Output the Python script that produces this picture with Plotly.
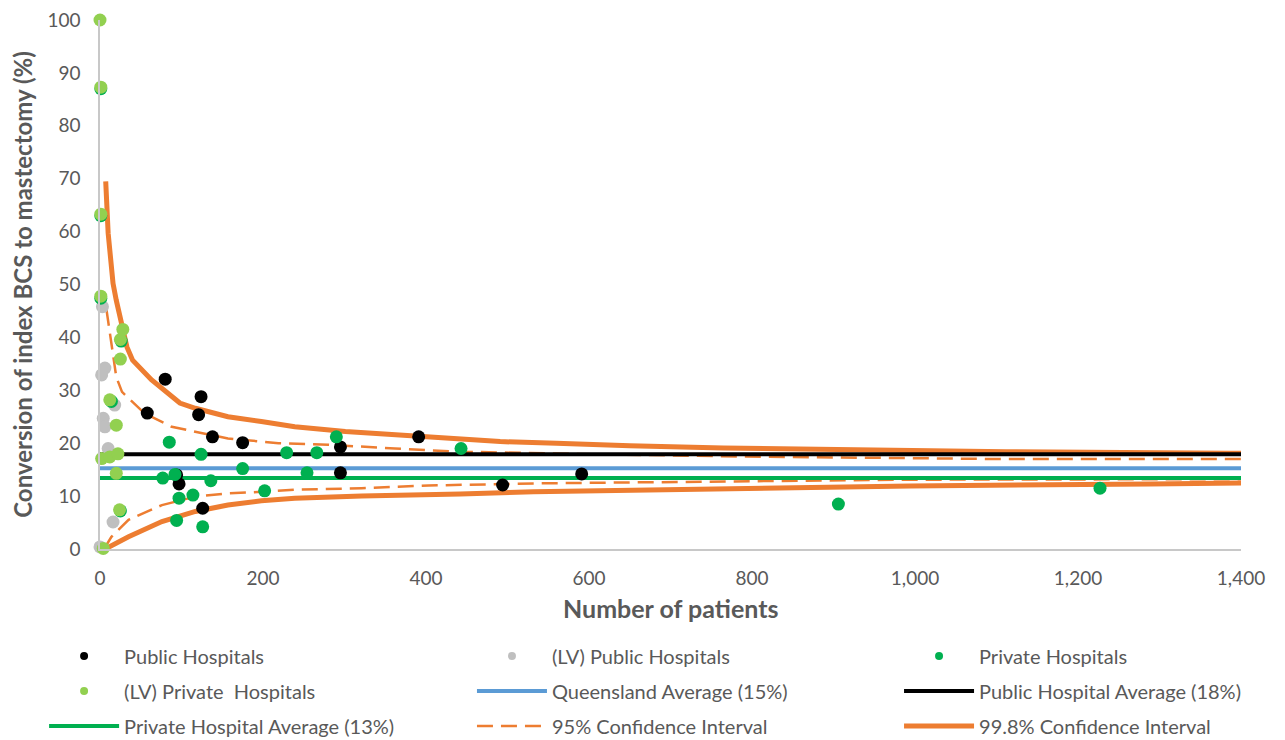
import plotly.graph_objects as go

# ---------------- data ----------------
public_n = [58, 80, 124, 121, 138, 175, 94, 97, 126, 391, 295, 295, 494, 591]
public_pct = [25.7, 32.1, 28.8, 25.4, 21.2, 20.1, 14.0, 12.3, 7.7, 21.2, 19.3, 14.4, 12.1, 14.2]

lv_public_n = [3, 6, 2, 18, 4, 6, 10, 16, 0]
lv_public_pct = [45.8, 34.2, 32.9, 27.2, 24.7, 23.1, 19.0, 5.1, 0.4]

private_n = [1, 1, 1, 26, 14, 25, 85, 124, 229, 266, 290, 175, 254, 77, 92, 136, 202, 114, 97, 94, 126, 443, 906, 1227]
private_pct = [87.0, 63.0, 47.4, 39.3, 27.9, 7.2, 20.2, 17.9, 18.2, 18.2, 21.2, 15.2, 14.4, 13.4, 14.1, 12.9,
               11.0, 10.2, 9.6, 5.4, 4.2, 19.0, 8.5, 11.5]

lv_private_n = [0, 1, 1, 1, 28, 25, 25, 12, 20, 2, 12, 22, 20, 24, 4]
lv_private_pct = [100.0, 87.3, 63.3, 47.8, 41.5, 39.6, 35.9, 28.2, 23.4, 17.1, 17.4, 18.0, 14.3, 7.4, 0.1]

avg_n = [0, 1400]
qld_avg = [15.25, 15.25]
public_avg = [17.9, 17.9]
private_avg = [13.4, 13.4]

ci95_upper_n = [8, 11, 14, 20, 27, 55, 88, 117, 157, 219, 280, 362, 440, 608, 781, 1105, 1400]
ci95_upper = [45.2, 42.0, 38.5, 32.5, 29.7, 25.6, 23.1, 22.2, 20.9, 20.0, 19.7, 19.0, 18.4, 17.9, 17.5, 17.0, 17.0]
ci95_lower_n = [5, 14, 35, 76, 117, 157, 198, 239, 321, 362, 403, 536, 708, 982, 1400]
ci95_lower = [0.0, 2.3, 5.5, 8.3, 9.9, 10.5, 10.8, 11.2, 11.5, 11.7, 12.0, 12.4, 12.7, 13.1, 13.2]

ci998_upper_n = [7, 10, 16, 20, 33, 40, 63, 98, 117, 157, 198, 239, 301, 362, 429, 491, 560, 650, 765, 912,
                 1112, 1387, 1400]
ci998_upper = [69.5, 59.7, 50.2, 47.0, 38.2, 35.7, 32.0, 27.6, 26.6, 25.0, 24.1, 23.1, 22.2, 21.6, 20.9, 20.3,
               20.0, 19.5, 19.1, 18.8, 18.4, 18.1, 18.1]
ci998_lower_n = [3, 10, 35, 76, 117, 157, 198, 239, 321, 362, 442, 532, 642, 789, 994, 1288, 1400]
ci998_lower = [0.0, 0.3, 2.3, 5.2, 7.1, 8.3, 9.1, 9.6, 10.0, 10.1, 10.4, 10.8, 11.1, 11.5, 11.9, 12.3, 12.5]

x_ticks = [0, 200, 400, 600, 800, 1000, 1200, 1400]
y_ticks = [0, 10, 20, 30, 40, 50, 60, 70, 80, 90, 100]

# ---------------- styles ----------------
FONT = "Lato"
TXT = "#595959"
ORANGE = "#ED7D31"
BLUE = "#5B9BD5"
GREEN = "#00B050"
LGREEN = "#92D050"
GREY = "#BFBFBF"
DASH = "16px,8px"

fig = go.Figure()

# lines first (drawn beneath the points)
fig.add_trace(go.Scatter(x=ci998_upper_n, y=ci998_upper, mode="lines", name="99.8% Confidence Interval",
                         line=dict(color=ORANGE, width=5), legend="legend3", legendrank=3,
                         legendgroup="ci998"))
fig.add_trace(go.Scatter(x=ci998_lower_n, y=ci998_lower, mode="lines", name="99.8% Confidence Interval",
                         line=dict(color=ORANGE, width=5), showlegend=False, legend="legend3",
                         legendgroup="ci998"))
fig.add_trace(go.Scatter(x=ci95_upper_n, y=ci95_upper, mode="lines", name="95% Confidence Interval",
                         line=dict(color=ORANGE, width=2.5, dash=DASH), legend="legend2", legendrank=3,
                         legendgroup="ci95"))
fig.add_trace(go.Scatter(x=ci95_lower_n, y=ci95_lower, mode="lines", name="95% Confidence Interval",
                         line=dict(color=ORANGE, width=2.5, dash=DASH), showlegend=False, legend="legend2",
                         legendgroup="ci95"))
fig.add_trace(go.Scatter(x=avg_n, y=qld_avg, mode="lines", name="Queensland Average (15%)",
                         line=dict(color=BLUE, width=4), legend="legend2", legendrank=2, legendgroup="qld"))
fig.add_trace(go.Scatter(x=avg_n, y=public_avg, mode="lines", name="Public Hospital Average (18%)",
                         line=dict(color="#000000", width=4), legend="legend3", legendrank=2,
                         legendgroup="pubavg"))
fig.add_trace(go.Scatter(x=avg_n, y=private_avg, mode="lines", name="Private Hospital Average (13%)",
                         line=dict(color=GREEN, width=4), legend="legend", legendrank=3, legendgroup="privavg"))

# point series (their legend entries use small-marker proxies below)
point_series = [
    ("Public Hospitals", public_n, public_pct, "#000000", "legend", 1, "pub"),
    ("(LV) Public Hospitals", lv_public_n, lv_public_pct, GREY, "legend2", 1, "lvpub"),
    ("Private Hospitals", private_n, private_pct, GREEN, "legend3", 1, "priv"),
    ("(LV) Private  Hospitals", lv_private_n, lv_private_pct, LGREEN, "legend", 2, "lvpriv"),
]
for name, xs, ys, col, leg, rank, grp in point_series:
    fig.add_trace(go.Scatter(x=xs, y=ys, mode="markers", name=name,
                             marker=dict(color=col, size=13), cliponaxis=False,
                             showlegend=False, legendgroup=grp))
    fig.add_trace(go.Scatter(x=[None], y=[None], mode="markers", name=name,
                             marker=dict(color=col, size=8), legend=leg, legendrank=rank,
                             legendgroup=grp, hoverinfo="skip"))

legend_common = dict(orientation="v", xanchor="left", yanchor="middle", y=-0.2684,
                     font=dict(family=FONT, size=20, color=TXT), bgcolor="rgba(0,0,0,0)",
                     itemwidth=70, itemsizing="trace", traceorder="grouped", tracegroupgap=6)

fig.update_layout(
    width=1285, height=740,
    margin=dict(l=100, r=44, t=20, b=191, autoexpand=False),
    plot_bgcolor="white", paper_bgcolor="white",
    font=dict(family=FONT, size=19, color=TXT),
    xaxis=dict(range=[0, 1400], tickvals=x_ticks, tickformat=",d", showgrid=False, zeroline=False,
               showline=True, linecolor="#C8C8C8", linewidth=1.5, ticks="", ticklabelstandoff=11,
               tickfont=dict(family=FONT, size=19, color=TXT)),
    yaxis=dict(range=[0, 100], tickvals=y_ticks, showgrid=False, zeroline=False,
               showline=True, linecolor="#C8C8C8", linewidth=1.5, ticks="", ticklabelstandoff=14,
               tickfont=dict(family=FONT, size=19, color=TXT),
               title=dict(text="<b>Conversion of index BCS to mastectomy (%)</b>",
                          font=dict(family=FONT, size=24, color=TXT), standoff=8)),
    annotations=[dict(text="<b>Number of patients</b>", xref="paper", yref="paper", x=0.5, y=-0.1115,
                      xanchor="center", yanchor="middle", showarrow=False,
                      font=dict(family=FONT, size=25, color=TXT))],
    legend=dict(x=-0.049, **legend_common),
    legend2=dict(x=0.3260, **legend_common),
    legend3=dict(x=0.7003, **legend_common),
)

fig.write_html("out.html")
